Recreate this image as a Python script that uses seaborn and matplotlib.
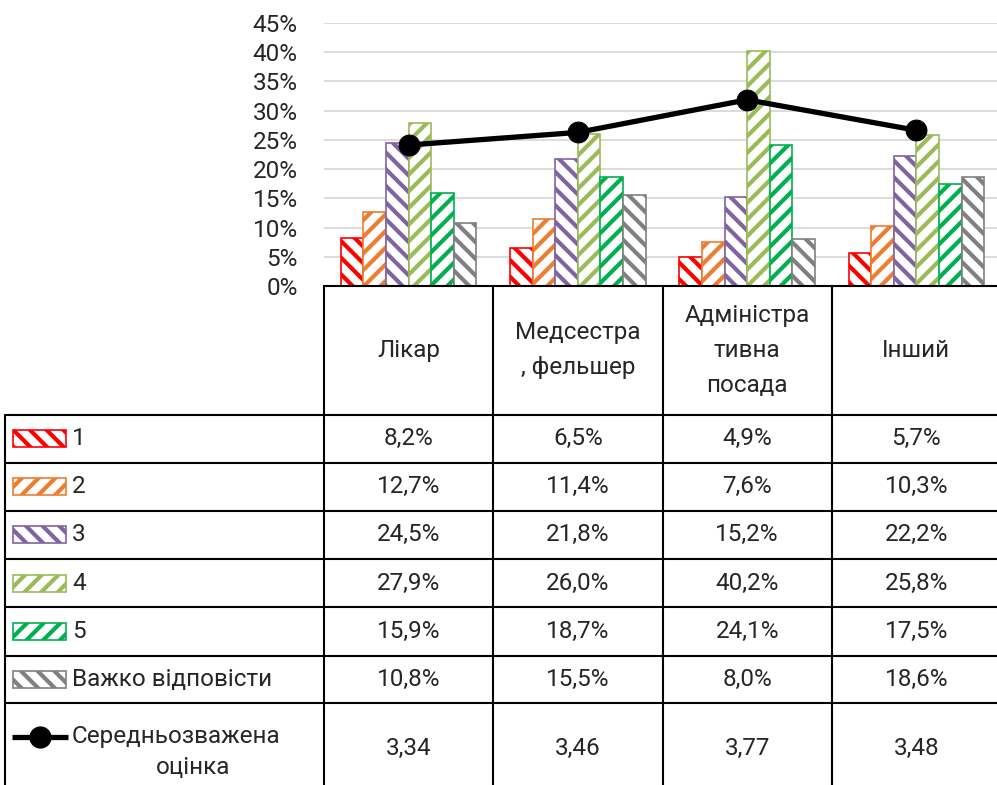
import numpy as np
import pandas as pd
import matplotlib
matplotlib.use("Agg")
import matplotlib.pyplot as plt
from matplotlib.patches import Rectangle
import seaborn as sns

# data
categories = ["Лікар", "Медсестра\n, фельшер", "Адміністра\nтивна\nпосада", "Інший"]
series = ["1", "2", "3", "4", "5", "Важко відповісти"]
s1 = [8.2, 6.5, 4.9, 5.7]
s2 = [12.7, 11.4, 7.6, 10.3]
s3 = [24.5, 21.8, 15.2, 22.2]
s4 = [27.9, 26.0, 40.2, 25.8]
s5 = [15.9, 18.7, 24.1, 17.5]
s6 = [10.8, 15.5, 8.0, 18.6]
means = [3.34, 3.46, 3.77, 3.48]
mean_label = "Середньозважена\nоцінка"

colors = ["#FF0000", "#ED7D31", "#8064A2", "#9BBB59", "#00B050", "#808080"]
hatches = ["\\\\", "//", "\\\\", "//", "//", "\\\\"]

values = [s1, s2, s3, s4, s5, s6]
df = pd.DataFrame({
    "cat": np.tile(categories, len(series)),
    "series": np.repeat(series, len(categories)),
    "val": np.concatenate(values) / 100,
})

sns.set_theme(style="white")
plt.rcParams["font.family"] = ["Roboto", "DejaVu Sans"]
plt.rcParams["hatch.linewidth"] = 3.0
FS = 17.5

W, H = 997, 785
fig = plt.figure(figsize=(W / 100, H / 100), dpi=100)

# pixel layout
AX_L, AX_R = 324, 1001
Y0, Y45 = 286, 23
TAB_L = 5
row_lines = [414.7, 462.7, 510.7, 559, 607, 655.7, 703.3]
col_w = (AX_R - AX_L) / len(categories)

ax = fig.add_axes([AX_L / W, 1 - Y0 / H, (AX_R - AX_L) / W, (Y0 - Y45) / H])
sns.barplot(data=df, x="cat", y="val", hue="series", palette=colors,
            fill=False, legend=False, width=0.8, ax=ax)
for cont, c, h in zip(ax.containers, colors, hatches):
    for bar in cont:
        bar.set_facecolor("white")
        bar.set_edgecolor(c)
        bar.set_hatch(h)
        bar.set_linewidth(1.2)

ax.set_xlim(-0.5, len(categories) - 0.5)
ax.set_ylim(0, 0.45)
ticks = np.arange(0, 0.451, 0.05)
ax.set_yticks(ticks)
ax.set_yticklabels([f"{int(round(t * 100))}%" for t in ticks], fontsize=FS)
ax.tick_params(axis="y", length=0, pad=19)
ax.set_xticks([])
ax.set_xlabel("")
ax.set_ylabel("")
ax.grid(axis="y", color="#D9D9D9", linewidth=1.3)
ax.set_axisbelow(True)
for s in ["top", "right", "left"]:
    ax.spines[s].set_visible(False)
ax.spines["bottom"].set_color("black")
ax.spines["bottom"].set_linewidth(1.5)
ax.patch.set_alpha(0)

ax2 = ax.twinx()
sns.lineplot(x=np.arange(len(means)), y=means, ax=ax2, color="black",
             linewidth=3.8, marker="o", markersize=15, markeredgecolor="black")
ax2.set_ylim(2, 4.5)
ax2.set_axis_off()

# data table
tab = fig.add_axes([0, 0, 1, 1], zorder=-1)
tab.set_xlim(0, W)
tab.set_ylim(H, 0)
tab.set_axis_off()

lw = 1.5
for y in row_lines:
    tab.plot([TAB_L, AX_R], [y, y], color="black", lw=lw, solid_capstyle="butt")
tab.plot([TAB_L, TAB_L], [row_lines[0], H + 20], color="black", lw=lw)
for i in range(len(categories) + 1):
    x = AX_L + i * col_w
    tab.plot([x, x], [Y0, H + 20], color="black", lw=lw)

# header
for i, cat in enumerate(categories):
    tab.text(AX_L + (i + 0.5) * col_w, (Y0 + row_lines[0]) / 2, cat,
             ha="center", va="center", fontsize=FS, linespacing=1.65)

# rows
for r, (name, vals, c, h) in enumerate(zip(series, values, colors, hatches)):
    yc = (row_lines[r] + row_lines[r + 1]) / 2
    tab.add_patch(Rectangle((13, yc - 8.5), 53, 17, facecolor="white",
                            edgecolor=c, hatch=h, lw=1.2))
    tab.text(72, yc, name, ha="left", va="center", fontsize=FS)
    for i, v in enumerate(vals):
        tab.text(AX_L + (i + 0.5) * col_w, yc, f"{v:.1f}%".replace(".", ","),
                 ha="center", va="center", fontsize=FS)

# mean row
yc = row_lines[-1] + 45
tab.plot([12, 68], [737, 737], color="black", lw=3.8, solid_capstyle="butt")
tab.plot([40], [737], "o", color="black", markersize=15)
top_line, bottom_line = mean_label.split("\n")
tab.text(72, 737, top_line, ha="left", va="center", fontsize=FS)
tab.text(72 + 121, 768, bottom_line, ha="center", va="center", fontsize=FS)
for i, m in enumerate(means):
    tab.text(AX_L + (i + 0.5) * col_w, yc, f"{m:.2f}".replace(".", ","),
             ha="center", va="center", fontsize=FS)

fig.savefig("out.png", dpi=100)
